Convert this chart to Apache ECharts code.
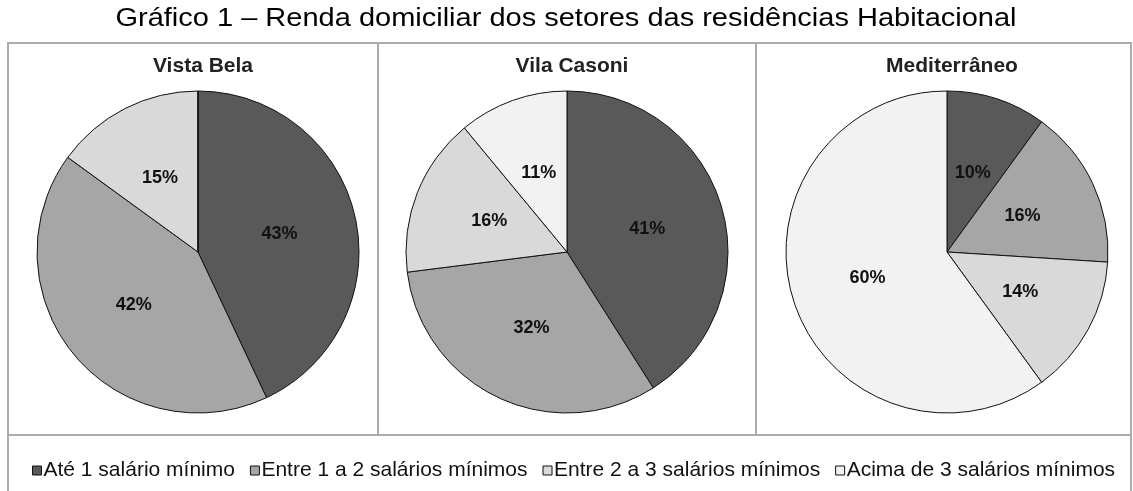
<!DOCTYPE html>
<html>
<head>
<meta charset="utf-8">
<script src="https://cdn.jsdelivr.net/npm/echarts@6/dist/echarts.min.js"></script>
<style>
html,body{margin:0;padding:0;background:#fff;}
#chart{width:1133px;height:491px;}
</style>
</head>
<body>
<div id="chart"></div>
<script>
const mainTitle = 'Gráfico 1 – Renda domiciliar dos setores das residências Habitacional';
const categories = ['Até 1 salário mínimo', 'Entre 1 a 2 salários mínimos', 'Entre 2 a 3 salários mínimos', 'Acima de 3 salários mínimos'];
const panelNames = ['Vista Bela', 'Vila Casoni', 'Mediterrâneo'];
const vistaBela = [43, 42, 15, 0];
const vilaCasoni = [41, 32, 16, 11];
const mediterraneo = [10, 16, 14, 60];

const panelValues = [vistaBela, vilaCasoni, mediterraneo];
const colors = ['#595959', '#a6a6a6', '#d9d9d9', '#f2f2f2'];
const centersX = [198, 567, 947];
const centerY = 252;
const R = 161;
const FONT = 'Liberation Sans, Arial, sans-serif';

const chart = echarts.init(document.getElementById('chart'), null, {renderer: 'canvas'});

const titles = panelNames.map((n, i) => ({
  text: n,
  left: centersX[i],
  top: 51,
  textAlign: 'center',
  textStyle: {fontFamily: FONT, fontSize: 21, fontWeight: 'bold', color: '#222'}
}));

const series = panelValues.map((vals, i) => ({
  type: 'pie',
  name: panelNames[i],
  center: [centersX[i], centerY],
  radius: [0, R],
  startAngle: 90,
  clockwise: true,
  avoidLabelOverlap: false,
  animation: false,
  emphasis: {disabled: true},
  itemStyle: {borderColor: '#111', borderWidth: 1},
  label: {
    show: true,
    position: 'inside',
    formatter: p => (p.value ? p.value + '%' : ''),
    fontFamily: FONT,
    fontSize: 18,
    fontWeight: 'bold',
    color: '#111'
  },
  labelLine: {show: false},
  data: categories.map((c, k) => ({name: c, value: vals[k]}))
}));

const lineStyle = {stroke: '#ababab', lineWidth: 2, fill: null};
chart.setOption({
  backgroundColor: '#fff',
  color: colors,
  title: titles,
  legend: {
    data: categories,
    left: 27,
    top: 455,
    icon: 'rect',
    itemWidth: 9,
    itemHeight: 9,
    itemGap: 15,
    selectedMode: false,
    itemStyle: {borderColor: '#111', borderWidth: 1},
    textStyle: {fontFamily: FONT, fontSize: 21, color: '#111', padding: [0, 0, 0, -3]}
  },
  graphic: [
    {type: 'rect', shape: {x: 8, y: 43, width: 1123, height: 460}, style: lineStyle, silent: true},
    {type: 'line', shape: {x1: 378, y1: 43, x2: 378, y2: 435}, style: lineStyle, silent: true},
    {type: 'line', shape: {x1: 756, y1: 43, x2: 756, y2: 435}, style: lineStyle, silent: true},
    {type: 'line', shape: {x1: 8, y1: 435, x2: 1131, y2: 435}, style: lineStyle, silent: true},
    {
      type: 'text', x: 566, y: 19, scaleX: 1.16, originX: 0, silent: true,
      style: {text: mainTitle, fontFamily: FONT, fontSize: 25, fill: '#000', align: 'center', verticalAlign: 'middle'}
    }
  ],
  series: series
});
</script>
</body>
</html>
